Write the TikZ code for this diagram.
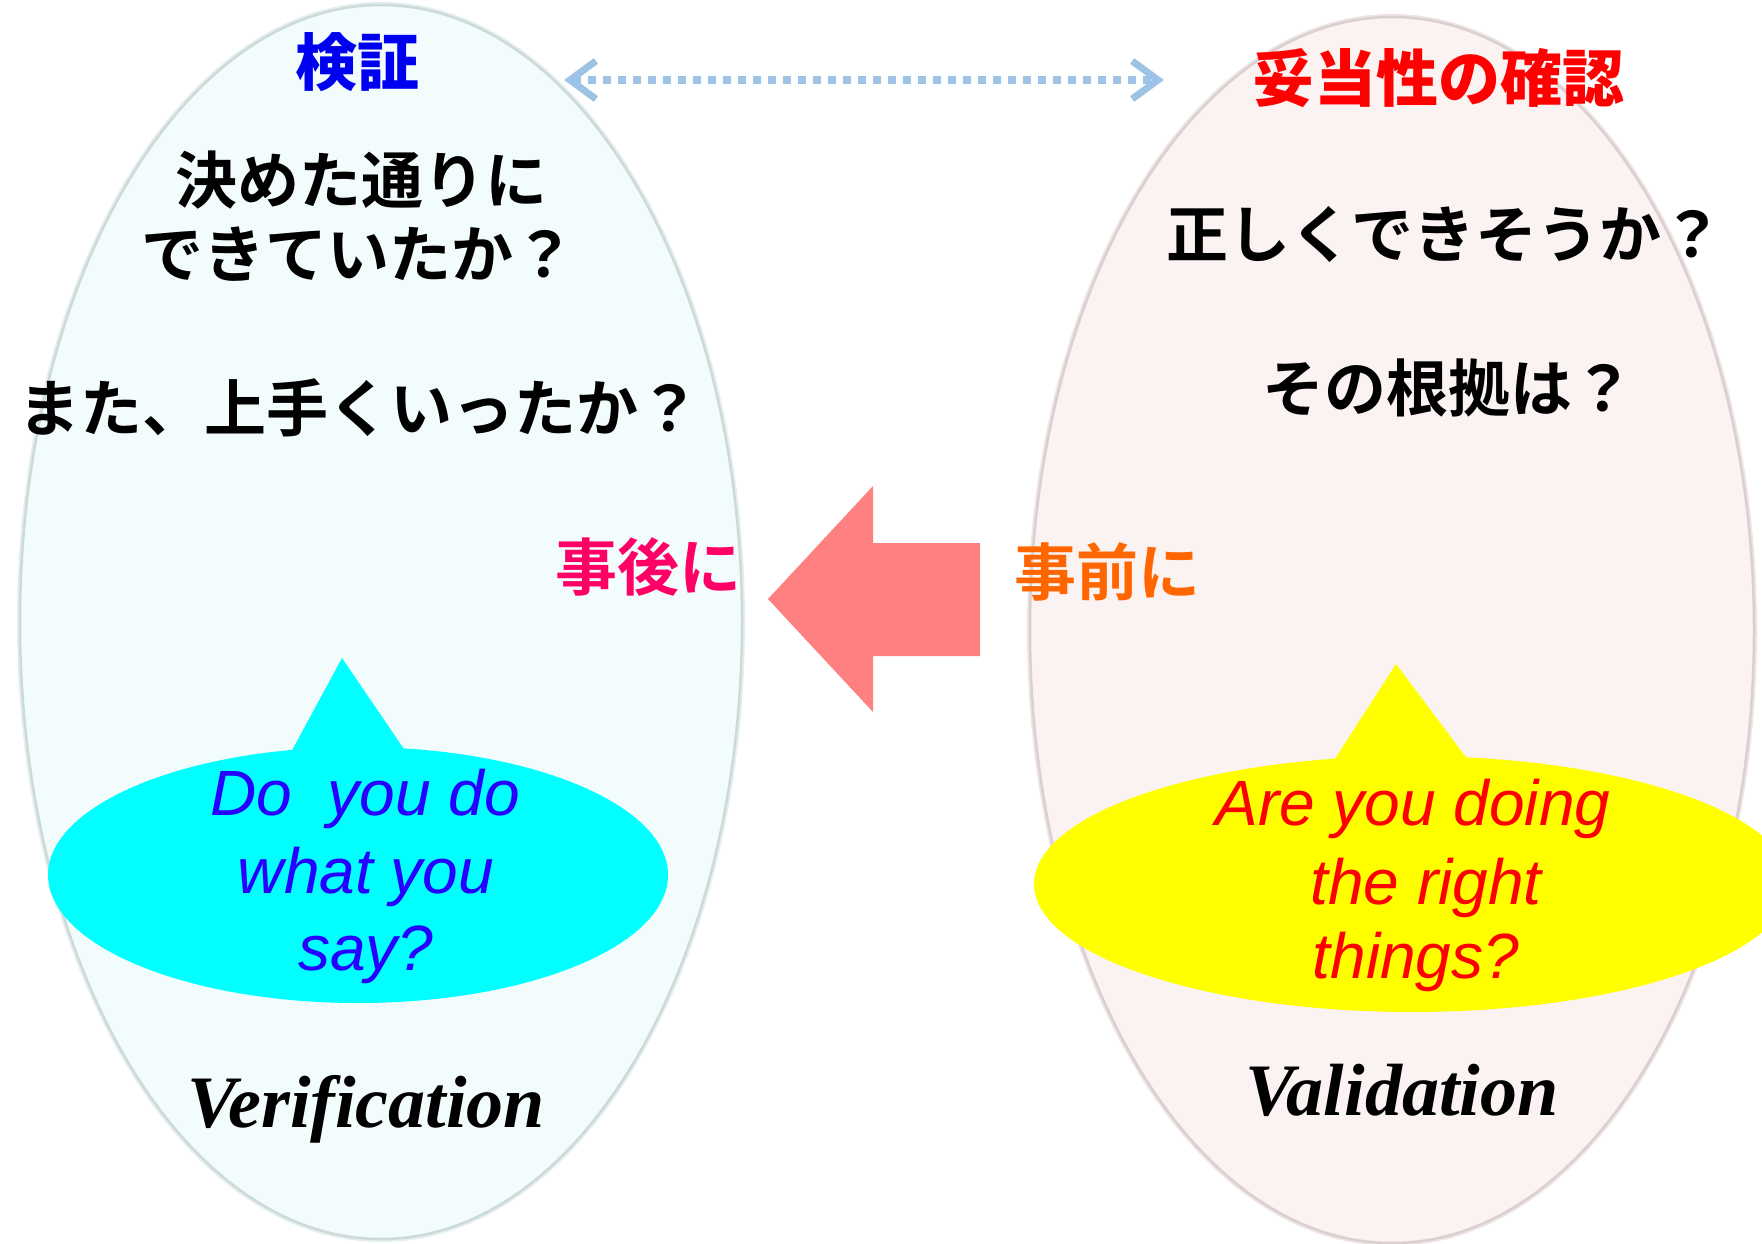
\documentclass[tikz,border=0pt]{standalone}
\usepackage{fontspec}
\usetikzlibrary{arrows.meta}
\newfontfamily\jpB{Noto Sans CJK JP}[UprightFont=* Bold]
\newfontfamily\jpH{Noto Sans CJK JP}[UprightFont=* Black]
\newfontfamily\engI{Liberation Sans}
\newfontfamily\serB{Liberation Serif}
\definecolor{ovalLfill}{RGB}{243,252,252}
\definecolor{ovalLline}{RGB}{205,218,218}
\definecolor{ovalLglow}{RGB}{228,238,238}
\definecolor{ovalRfill}{RGB}{251,242,242}
\definecolor{ovalRline}{RGB}{220,207,207}
\definecolor{ovalRglow}{RGB}{238,228,228}
\definecolor{dotblue}{RGB}{157,195,230}
\definecolor{bigarrow}{RGB}{255,128,128}
\definecolor{callcyan}{RGB}{0,255,255}
\definecolor{callyellow}{RGB}{255,255,0}
\definecolor{textblue}{RGB}{40,0,255}
\definecolor{titleblue}{RGB}{0,0,240}
\definecolor{afterpink}{RGB}{255,0,102}
\definecolor{beforeorange}{RGB}{255,102,0}
\tikzset{
  jptitle/.style={font=\jpH\fontsize{62}{70}\selectfont, inner sep=0pt},
  jpbody/.style={font=\jpB\fontsize{62}{70}\selectfont, inner sep=0pt, text=black},
  engq/.style={font=\engI\itshape\fontsize{64}{78}\selectfont, inner sep=0pt, anchor=base},
  engname/.style={font=\serB\bfseries\itshape\fontsize{74}{82}\selectfont, inner sep=0pt, anchor=base, text=black},
  dotarrow/.style={draw=dotblue, line width=8pt, dash pattern=on 8pt off 7pt,
    arrows={Straight Barb[length=26pt,width=38pt,line width=7pt]-Straight Barb[length=26pt,width=38pt,line width=7pt]}},
}
\begin{document}
\begin{tikzpicture}[x=1pt,y=-1pt]
\useasboundingbox (0,0) rectangle (1762,1244);
\fill[white] (0,0) rectangle (1762,1244);
% big ovals
\path[draw=ovalLglow, line width=6pt] (381,622) ellipse [x radius=361, y radius=617];
\path[fill=ovalLfill, draw=ovalLline, line width=2.5pt] (381,622) ellipse [x radius=361, y radius=617];
\path[draw=ovalRglow, line width=6pt] (1392,630) ellipse [x radius=362, y radius=613];
\path[fill=ovalRfill, draw=ovalRline, line width=2.5pt] (1392,630) ellipse [x radius=362, y radius=613];
% callouts
\fill[callcyan] (358,875) ellipse [x radius=310, y radius=128];
\fill[callcyan] (289,756) -- (342,658) -- (408,755) -- cycle;
\fill[callyellow] (1412,884) ellipse [x radius=378, y radius=128];
\fill[callyellow] (1331,765) -- (1396,664) -- (1471,764) -- cycle;
% big arrow
\fill[bigarrow] (768,599) -- (873,486) -- (873,543) -- (980,543) -- (980,656) -- (873,656) -- (873,712) -- cycle;
% dotted double arrow
\coordinate (dl) at (564,80);
\coordinate (dr) at (1164,80);
\draw[dotarrow] (dl) -- (dr);
% titles
\node[jptitle, text=titleblue] (kensho) at (357,62) {検証};
\node[jptitle, text=red] (datosei) at (1438,78) {妥当性の確認};
% left texts
\node[jpbody] (l1) at (361,180) {決めた通りに};
\node[jpbody] (l2) at (358,254) {できていたか？};
\node[jpbody] (l3) at (360,408) {また、上手くいったか？};
% right texts
\node[jpbody] (r1) at (1445,234) {正しくできそうか？};
\node[jpbody] (r2) at (1448,388) {その根拠は？};
% after / before
\node[jpbody, text=afterpink] (jigo) at (648,567) {事後に};
\node[jpbody, text=beforeorange] (jizen) at (1107,572) {事前に};
% callout texts
\node[engq, text=textblue] (c1) at (365,815) {Do\ \ you do};
\node[engq, text=textblue] (c2) at (366,893) {what you};
\node[engq, text=textblue] (c3) at (366,970) {say?};
\node[engq, text=red] (y1) at (1413,825) {Are you doing};
\node[engq, text=red] (y2) at (1426,904) {the right};
\node[engq, text=red] (y3) at (1416,978) {things?};
% names
\node[engname] (verif) at (366,1127) {Verification};
\node[engname] (valid) at (1402,1115) {Validation};
\end{tikzpicture}
\end{document}
